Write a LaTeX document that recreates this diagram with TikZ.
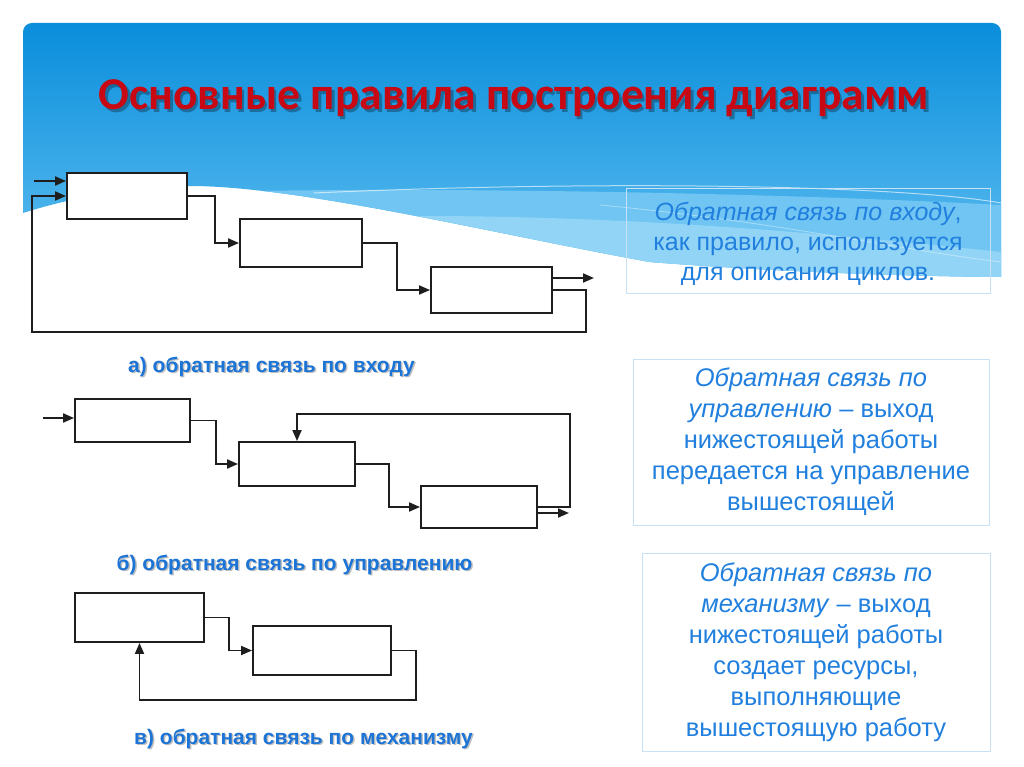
\documentclass[tikz,border=0pt]{standalone}
\usepackage{fontspec}
\setmainfont{Liberation Sans}
\newfontfamily\titlefont{Carlito}
\usetikzlibrary{arrows.meta}
\definecolor{txtblue}{RGB}{33,128,222}
\definecolor{lblblue}{RGB}{28,116,214}
\definecolor{ttlred}{RGB}{200,8,18}
\definecolor{edge}{RGB}{30,30,30}
\definecolor{bluetop}{RGB}{10,142,219}
\definecolor{bluebot}{RGB}{95,190,241}
\definecolor{band1}{RGB}{112,197,243}
\definecolor{band2}{RGB}{145,212,246}
\definecolor{frame}{RGB}{200,225,245}
\begin{document}
\begin{tikzpicture}[x=1pt,y=-1pt,
  blk/.style={draw=edge,line width=1.9pt,fill=white,inner sep=0pt},
  arr/.style={draw=edge,line width=1.9pt,-{Triangle[length=11pt,width=9pt]}},
  note/.style={draw=frame,line width=1pt,align=center,text=txtblue,font=\fontsize{25.5}{31}\selectfont,inner sep=0pt},
  notetxt/.style={align=center,text=txtblue,font=\fontsize{25}{30}\selectfont,inner sep=0pt},
  lbl/.style={font=\bfseries\fontsize{21}{25}\selectfont,text=lblblue,anchor=base},
  lblsh/.style={font=\bfseries\fontsize{21}{25}\selectfont,text=black,opacity=0.25,anchor=base}]

\useasboundingbox (0,0) rectangle (1024,767);
\fill[white] (0,0) rectangle (1024,767);

% header background
\def\wave{(23,213) [rounded corners=9pt] -- (23,23) -- (1001,23) [sharp corners] -- (1001,277) .. controls (900,276) and (780,272) .. (650,262) .. controls (500,235) and (300,186) .. (190,186) .. controls (140,186) and (80,195) .. (23,213) -- cycle}
\shade[top color=bluetop,bottom color=bluebot] \wave;
\begin{scope}
  \clip \wave;
  \fill[band1] (200,192) .. controls (450,186) and (800,194) .. (1001,205) -- (1001,400) -- (200,400) -- cycle;
  \fill[band2] (420,216) .. controls (650,216) and (850,236) .. (1001,252) -- (1001,400) -- (420,400) -- cycle;
  \draw[white,opacity=0.6,line width=1pt] (314,193) .. controls (600,180) and (900,185) .. (1001,203);
  \draw[white,opacity=0.4,line width=0.8pt] (600,205) .. controls (780,222) and (900,250) .. (1001,262);
\end{scope}

% title
\node[font=\titlefont\bfseries\fontsize{45.5}{50}\selectfont,text=black,opacity=0.3,anchor=base] (titlesh) at (516.5,112.5) {Основные правила построения диаграмм};
\node[font=\titlefont\bfseries\fontsize{45.5}{50}\selectfont,text=ttlred,anchor=base] (title) at (514,110) {Основные правила построения диаграмм};

% diagram a
\node[blk,minimum width=120pt,minimum height=46pt] (A1) at (127,196) {};
\node[blk,minimum width=122pt,minimum height=48pt] (A2) at (301,243) {};
\node[blk,minimum width=121pt,minimum height=46pt] (A3) at (491.5,290) {};
\coordinate (ain) at (34,181);
\coordinate (aout) at (594,278);
\coordinate (fa1) at (586,332);
\coordinate (fa2) at (32,332);
\draw[arr] (ain) -- (ain -| A1.west);
\draw[arr] (A1.east) -- ++(27,0) |- (A2.west);
\draw[arr] (A2.east) -- ++(34,0) |- (A3.west);
\draw[arr] ([yshift=12pt]A3.east) -- (aout);
\draw[arr] (A3.east) -| (fa1) -- (fa2) |- (A1.west);

% diagram b
\node[blk,minimum width=115pt,minimum height=43pt] (B1) at (132.5,420.5) {};
\node[blk,minimum width=116pt,minimum height=44pt] (B2) at (297,464) {};
\node[blk,minimum width=116pt,minimum height=42pt] (B3) at (479,507) {};
\coordinate (bin) at (43,418);
\coordinate (fb) at (570,414);
\coordinate (bout) at (569,513);
\draw[arr] (bin) -- (bin -| B1.west);
\draw[arr] (B1.east) -- ++(25,0) |- (B2.west);
\draw[arr] (B2.east) -- ++(33,0) |- (B3.west);
\draw[arr] (B3.east) -| (fb) -| (B2.north);
\draw[arr] ([yshift=-6pt]B3.east) -- (bout);

% diagram c
\node[blk,minimum width=129pt,minimum height=49pt] (C1) at (139.5,617.5) {};
\node[blk,minimum width=138pt,minimum height=49pt] (C2) at (322,650.5) {};
\coordinate (fc) at (416,700);
\draw[arr] (C1.east) -- ++(24,0) |- (C2.west);
\draw[arr] (C2.east) -| (fc) -| (C1.south);

% captions
\node[lblsh] (lash) at (273,373.5) {а) обратная связь по входу};
\node[lbl] (la) at (271.5,372) {а) обратная связь по входу};
\node[lblsh] (lbsh) at (296,571.5) {б) обратная связь по управлению};
\node[lbl] (lb) at (294.5,570) {б) обратная связь по управлению};
\node[lblsh] (lcsh) at (305,745.5) {в) обратная связь по механизму};
\node[lbl] (lc) at (303.5,744) {в) обратная связь по механизму};

% notes
\node[note,minimum width=364pt,minimum height=105pt] (n1) at (808,241) {};
\node[notetxt] (n1t) at (808,244)
  {\textit{Обратная связь по входу},\\как правило, используется\\для описания циклов.};
\node[note,minimum width=356pt,minimum height=166pt] (n2) at (811,442)
  {\textit{Обратная связь по}\\\textit{управлению} – выход\\нижестоящей работы\\передается на управление\\вышестоящей};
\node[note,minimum width=348pt,minimum height=198pt] (n3) at (816,652)
  {\textit{Обратная связь по}\\\textit{механизму} – выход\\нижестоящей работы\\создает ресурсы,\\выполняющие\\вышестоящую работу};
\end{tikzpicture}
\end{document}
